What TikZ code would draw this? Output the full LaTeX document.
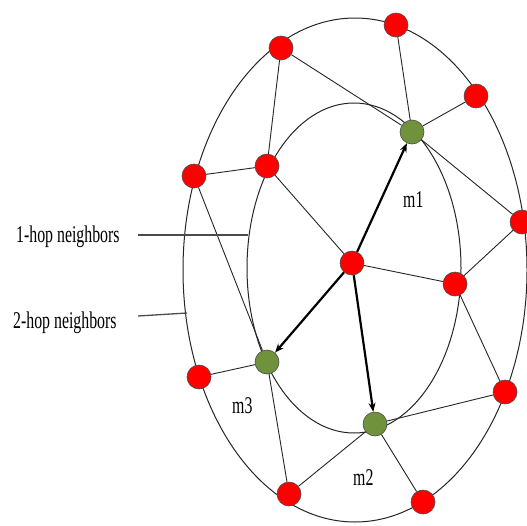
\documentclass[tikz,border=0pt]{standalone}
\usepackage{graphicx}
\usepackage{fontspec}
\setmainfont{Liberation Serif}
\usetikzlibrary{arrows.meta}
\definecolor{nodered}{RGB}{255,0,0}
\definecolor{nodegreen}{RGB}{112,146,60}
\tikzset{
  rednode/.style={circle, draw=black!70, line width=0.6pt, fill=nodered, minimum size=24pt, inner sep=0pt},
  greennode/.style={circle, draw=black!70, line width=0.6pt, fill=nodegreen, minimum size=24pt, inner sep=0pt},
  link/.style={draw=black!85, line width=0.9pt},
  ring/.style={draw=black!85, line width=1pt},
  mpr/.style={draw=black, line width=2.2pt, -{Stealth[length=9pt,width=7pt]}},
  lbl/.style={font=\fontsize{24}{26}\selectfont, inner sep=0pt, anchor=base west},
  leader/.style={draw=black!70, line width=1.3pt}
}
\newcommand{\cond}[1]{\scalebox{0.66}[1]{#1}}
\begin{document}
\begin{tikzpicture}[x=1pt,y=-1pt]
\clip (0,0) rectangle (527,525);
\fill[white] (0,0) rectangle (527,525);
% rings
\draw[ring] (355,270) ellipse [x radius=172pt, y radius=252pt];
\draw[ring] (354,268) ellipse [x radius=107pt, y radius=165pt];
% nodes
\node[rednode] (A) at (281,48) {};
\node[rednode] (B) at (396,25) {};
\node[rednode] (C) at (476,96) {};
\node[rednode] (D) at (522,222) {};
\node[rednode] (E) at (505,392) {};
\node[rednode] (F) at (423,502) {};
\node[rednode] (G) at (289,494) {};
\node[rednode] (H) at (199,377) {};
\node[rednode] (I) at (194,176) {};
\node[rednode] (J) at (267,166) {};
\node[rednode] (K) at (352,263) {};
\node[rednode] (L) at (455,284) {};
\node[greennode] (M1) at (412,132) {};
\node[greennode] (M3) at (267,362) {};
\node[greennode] (M2) at (375,424) {};
% links
\draw[link] (A) -- (J);
\draw[link] (A) -- (M1);
\draw[link] (B) -- (M1);
\draw[link] (C) -- (M1);
\draw[link] (M1) -- (D);
\draw[link] (I) -- (J);
\draw[link] (J) -- (K);
\draw[link] (I) -- (M3);
\draw[link] (H) -- (M3);
\draw[link] (M3) -- (G);
\draw[link] (G) -- (M2);
\draw[link] (M2) -- (F);
\draw[link] (M2) -- (E);
\draw[link] (K) -- (L);
\draw[link] (L) -- (D);
\draw[link] (L) -- (E);
% MPR arrows
\draw[mpr] (K) -- (M1);
\draw[mpr] (K) -- (M3);
\draw[mpr] (K) -- (M2);
% labels
\node[lbl] (m1) at (403,207) {\cond{m1}};
\node[lbl] (m3) at (232,413) {\cond{m3}};
\node[lbl] (m2) at (353,485) {\cond{m2}};
\node[lbl] (hop1) at (16,242) {\cond{1-hop neighbors}};
\node[lbl] (hop2) at (13,328) {\cond{2-hop neighbors}};
\coordinate (h1a) at (138,235);
\coordinate (h1b) at (248,235);
\coordinate (h2a) at (138,316);
\coordinate (h2b) at (187,313);
\draw[leader] (h1a) -- (h1b);
\draw[leader] (h2a) -- (h2b);
\end{tikzpicture}
\end{document}
